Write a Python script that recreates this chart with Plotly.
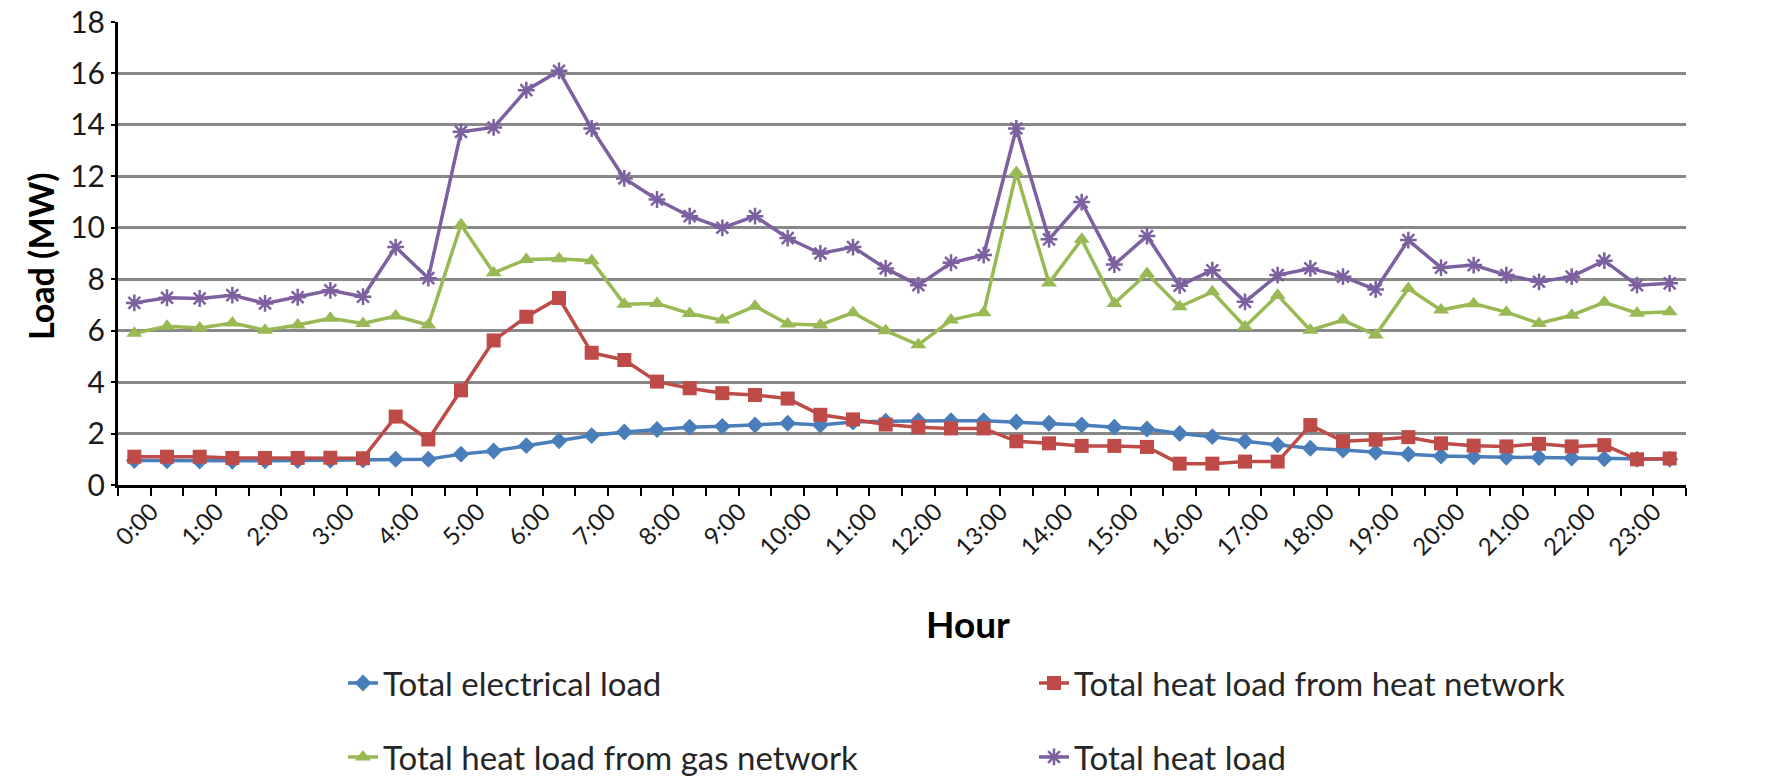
import plotly.graph_objects as go

# Half-hourly time slots over one day
times = ["0:00", "0:30", "1:00", "1:30", "2:00", "2:30", "3:00", "3:30",
         "4:00", "4:30", "5:00", "5:30", "6:00", "6:30", "7:00", "7:30",
         "8:00", "8:30", "9:00", "9:30", "10:00", "10:30", "11:00", "11:30",
         "12:00", "12:30", "13:00", "13:30", "14:00", "14:30", "15:00", "15:30",
         "16:00", "16:30", "17:00", "17:30", "18:00", "18:30", "19:00", "19:30",
         "20:00", "20:30", "21:00", "21:30", "22:00", "22:30", "23:00", "23:30"]

# Labelled hours on the category axis
hour_labels = ["0:00", "1:00", "2:00", "3:00", "4:00", "5:00", "6:00", "7:00",
               "8:00", "9:00", "10:00", "11:00", "12:00", "13:00", "14:00", "15:00",
               "16:00", "17:00", "18:00", "19:00", "20:00", "21:00", "22:00", "23:00"]

# Loads in MW
electrical_load = [0.95, 0.94, 0.93, 0.92, 0.94, 0.95, 0.96, 0.97,
                   1.00, 1.00, 1.20, 1.32, 1.53, 1.72, 1.92, 2.06,
                   2.16, 2.25, 2.28, 2.33, 2.40, 2.33, 2.45, 2.48,
                   2.50, 2.50, 2.50, 2.45, 2.40, 2.33, 2.25, 2.18,
                   2.00, 1.88, 1.70, 1.56, 1.43, 1.36, 1.27, 1.20,
                   1.13, 1.09, 1.08, 1.07, 1.05, 1.02, 1.00, 1.00]

heat_from_heat_network = [1.10, 1.10, 1.10, 1.05, 1.05, 1.05, 1.06, 1.04,
                          2.66, 1.77, 3.68, 5.62, 6.54, 7.27, 5.14, 4.86,
                          4.02, 3.76, 3.57, 3.50, 3.36, 2.73, 2.55, 2.35,
                          2.25, 2.20, 2.20, 1.70, 1.62, 1.52, 1.52, 1.48,
                          0.83, 0.83, 0.91, 0.91, 2.33, 1.70, 1.76, 1.86,
                          1.62, 1.53, 1.50, 1.60, 1.50, 1.55, 1.00, 1.03]

heat_from_gas_network = [5.90, 6.17, 6.10, 6.30, 6.02, 6.22, 6.48, 6.28,
                         6.57, 6.22, 10.12, 8.25, 8.77, 8.80, 8.72, 7.03,
                         7.06, 6.67, 6.41, 6.95, 6.26, 6.22, 6.70, 6.00,
                         5.45, 6.41, 6.70, 12.15, 7.85, 9.55, 7.06, 8.22,
                         6.93, 7.51, 6.15, 7.38, 6.02, 6.41, 5.83, 7.64,
                         6.80, 7.05, 6.72, 6.28, 6.60, 7.10, 6.68, 6.74]

total_heat_load = [7.08, 7.28, 7.25, 7.38, 7.06, 7.30, 7.57, 7.32,
                   9.25, 8.04, 13.73, 13.90, 15.35, 16.10, 13.86, 11.92,
                   11.10, 10.45, 10.00, 10.45, 9.60, 9.00, 9.25, 8.42,
                   7.77, 8.64, 8.94, 13.86, 9.55, 11.00, 8.57, 9.68,
                   7.75, 8.35, 7.12, 8.16, 8.42, 8.10, 7.60, 9.52,
                   8.45, 8.55, 8.16, 7.90, 8.10, 8.72, 7.77, 7.84]

y_ticks = [0, 2, 4, 6, 8, 10, 12, 14, 16, 18]

positions = list(range(len(times)))
label_positions = [times.index(h) for h in hour_labels]

FONT = "Lato, Carlito, Calibri, sans-serif"

series = [
    ("Total electrical load", electrical_load, "#4A7EBB", "diamond", 13, "legend"),
    ("Total heat load from heat network", heat_from_heat_network, "#BE4B48", "square", 14, "legend"),
    ("Total heat load from gas network", heat_from_gas_network, "#98B954", "triangle-up", 14, "legend2"),
    ("Total heat load", total_heat_load, "#7D60A0", "asterisk-open", 14, "legend2"),
]

fig = go.Figure()
for name, values, color, symbol, size, leg in series:
    marker = dict(symbol=symbol, size=size, color=color)
    if symbol.endswith("open"):
        marker["line"] = dict(color=color, width=2.5)
    fig.add_trace(go.Scatter(
        x=positions, y=values, name=name, mode="lines+markers",
        line=dict(color=color, width=3.5), marker=marker,
        customdata=times, hovertemplate="%{customdata}: %{y} MW<extra>" + name + "</extra>",
        legend=leg,
    ))

legend_common = dict(
    orientation="h", xanchor="left", yanchor="middle",
    font=dict(family=FONT, size=33, color="#262626"),
    entrywidth=646, entrywidthmode="pixels",
    bgcolor="rgba(0,0,0,0)", itemwidth=30,
)

fig.update_layout(
    width=1789, height=782,
    margin=dict(l=118, r=103, t=22, b=297, autoexpand=False),
    paper_bgcolor="white", plot_bgcolor="white",
    font=dict(family=FONT, color="#1a1a1a"),
    showlegend=True,
    legend=dict(x=0.1435, y=-0.4277, **legend_common),
    legend2=dict(x=0.1435, y=-0.5875, **legend_common),
    xaxis=dict(
        range=[-0.5, len(times) - 0.5],
        tickvals=label_positions, ticktext=hour_labels,
        tickangle=-45, ticks="", ticklabelshift=17,
        tickfont=dict(family=FONT, size=24, color="#1a1a1a"),
        showgrid=False, zeroline=False, automargin=False,
        showline=True, linecolor="black", linewidth=3,
        minor=dict(tick0=-0.5, dtick=1, ticks="outside", ticklen=8,
                   tickwidth=2, tickcolor="black", showgrid=False),
    ),
    yaxis=dict(
        range=[0, 18], tickvals=y_ticks,
        ticks="outside", ticklen=4, tickwidth=2, tickcolor="black",
        tickfont=dict(family=FONT, size=30, color="#1a1a1a"),
        showgrid=True, gridcolor="#888888", gridwidth=3,
        zeroline=False, showline=True, linecolor="black", linewidth=3,
        automargin=False,
    ),
    annotations=[
        dict(text="<b>Hour</b>", xref="paper", yref="paper", x=0.542, y=-0.300,
             xanchor="center", yanchor="middle", showarrow=False,
             font=dict(family=FONT, size=37, color="black")),
        dict(text="<b>Load (MW)</b>", xref="paper", yref="paper", x=-0.0497, y=0.4946,
             xanchor="center", yanchor="middle", textangle=-90, showarrow=False,
             font=dict(family=FONT, size=34, color="black")),
    ],
)

fig.write_html("out.html")
